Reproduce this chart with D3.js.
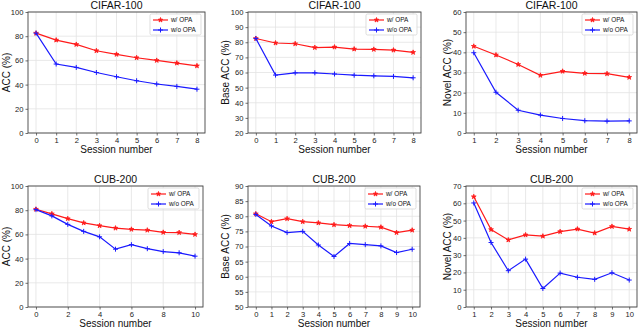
<!DOCTYPE html>
<html>
<head>
<meta charset="utf-8">
<script src="https://cdn.jsdelivr.net/npm/d3@7"></script>
<style>
  body { margin: 0; background: #fff; }
  svg { font-family: "Liberation Sans", Arial, sans-serif; }
</style>
</head>
<body>
<div id="myChart"></div>
<script>
// sessions
const cifarSessions = [0, 1, 2, 3, 4, 5, 6, 7, 8]
const cifarNovelSessions = [1, 2, 3, 4, 5, 6, 7, 8]
const cubSessions = [0, 1, 2, 3, 4, 5, 6, 7, 8, 9, 10]
const cubNovelSessions = [1, 2, 3, 4, 5, 6, 7, 8, 9, 10]

// CIFAR-100
const cifarAccWith = [82.5, 76.8, 73.2, 68.0, 65.0, 62.2, 60.0, 57.8, 55.5]
const cifarAccWithout = [82.5, 57.0, 54.2, 50.0, 46.5, 43.2, 40.5, 38.5, 36.2]
const cifarBaseWith = [82.5, 79.5, 79.0, 76.5, 76.8, 75.5, 75.3, 74.8, 73.3]
const cifarBaseWithout = [82.5, 58.3, 59.8, 59.8, 59.0, 58.2, 57.8, 57.4, 56.5]
const cifarNovelWith = [43.0, 38.7, 34.0, 28.6, 30.6, 29.6, 29.4, 27.6]
const cifarNovelWithout = [39.8, 20.2, 11.3, 8.9, 7.2, 6.1, 5.9, 6.0]

// CUB-200
const cubAccWith = [80.8, 77.0, 73.0, 69.5, 67.2, 65.2, 64.2, 63.5, 61.7, 61.5, 60.0]
const cubAccWithout = [80.5, 75.3, 68.3, 62.5, 58.0, 47.8, 51.5, 48.2, 45.8, 44.8, 42.0]
const cubBaseWith = [80.8, 78.2, 79.2, 78.2, 77.8, 77.2, 76.9, 76.7, 76.4, 74.6, 75.4]
const cubBaseWithout = [80.6, 76.8, 74.6, 75.0, 70.5, 66.7, 71.0, 70.6, 70.2, 68.0, 69.1]
const cubNovelWith = [63.8, 44.8, 38.8, 41.7, 41.0, 43.6, 45.1, 42.8, 46.6, 45.0]
const cubNovelWithout = [60.2, 37.3, 21.0, 27.7, 10.7, 19.6, 17.2, 16.0, 19.8, 15.6]

// tick labels
const xTicksCifar = [0, 1, 2, 3, 4, 5, 6, 7, 8]
const xTicksCifarNovel = [1, 2, 3, 4, 5, 6, 7, 8]
const xTicksCubAcc = [0, 2, 4, 6, 8, 10]
const xTicksCub = [0, 1, 2, 3, 4, 5, 6, 7, 8, 9, 10]
const xTicksCubNovel = [1, 2, 3, 4, 5, 6, 7, 8, 9, 10]
const yTicksAcc = [0, 20, 40, 60, 80, 100]
const yTicksCifarBase = [20, 30, 40, 50, 60, 70, 80, 90, 100]
const yTicksCifarNovel = [0, 10, 20, 30, 40, 50, 60]
const yTicksCubBase = [50, 55, 60, 65, 70, 75, 80, 85, 90]
const yTicksCubNovel = [0, 10, 20, 30, 40, 50, 60, 70]

const seriesNames = ["w/ OPA", "w/o OPA"]
const seriesColors = ["#ff1a1a", "#1a1aff"]

let width = 640
let height = 329

let svg = d3.select("#myChart")
  .append("svg")
  .attr("width", width)
  .attr("height", height)

const panels = [
  { title: "CIFAR-100", ylabel: "ACC (%)", x: cifarSessions, a: cifarAccWith, b: cifarAccWithout,
    xt: xTicksCifar, yt: yTicksAcc, box: [28, 12, 205, 133], lx: 6 },
  { title: "CIFAR-100", ylabel: "Base ACC (%)", x: cifarSessions, a: cifarBaseWith, b: cifarBaseWithout,
    xt: xTicksCifar, yt: yTicksCifarBase, box: [248, 12, 421, 133], lx: 225 },
  { title: "CIFAR-100", ylabel: "Novel ACC (%)", x: cifarNovelSessions, a: cifarNovelWith, b: cifarNovelWithout,
    xt: xTicksCifarNovel, yt: yTicksCifarNovel, box: [466, 12, 637, 133], lx: 447 },
  { title: "CUB-200", ylabel: "ACC (%)", x: cubSessions, a: cubAccWith, b: cubAccWithout,
    xt: xTicksCubAcc, yt: yTicksAcc, box: [28, 186, 203, 307], lx: 6 },
  { title: "CUB-200", ylabel: "Base ACC (%)", x: cubSessions, a: cubBaseWith, b: cubBaseWithout,
    xt: xTicksCub, yt: yTicksCubBase, box: [248, 186, 420, 307], lx: 225 },
  { title: "CUB-200", ylabel: "Novel ACC (%)", x: cubNovelSessions, a: cubNovelWith, b: cubNovelWithout,
    xt: xTicksCubNovel, yt: yTicksCubNovel, box: [466, 186, 637, 307], lx: 447 }
]

const star = d3.symbol().type(d3.symbolStar).size(7)
const plus = "M-2.5,0H2.5M0,-2.5V2.5"

panels.forEach(p => {
  const [x0, y0, x1, y1] = p.box
  const xmin = d3.min(p.x), xmax = d3.max(p.x)
  const pad = (xmax - xmin) * 0.05
  const x = d3.scaleLinear().domain([xmin - pad, xmax + pad]).range([x0, x1])
  const y = d3.scaleLinear().domain([d3.min(p.yt), d3.max(p.yt)]).range([y1, y0])

  const g = svg.append("g")

  // grid
  g.append("g").selectAll("line").data(p.xt).enter().append("line")
    .attr("x1", d => x(d)).attr("x2", d => x(d)).attr("y1", y0).attr("y2", y1)
    .attr("stroke", "#e3e3e3").attr("stroke-width", 0.8)
  g.append("g").selectAll("line").data(p.yt).enter().append("line")
    .attr("x1", x0).attr("x2", x1).attr("y1", d => y(d)).attr("y2", d => y(d))
    .attr("stroke", "#e3e3e3").attr("stroke-width", 0.8)

  // axes
  const xAxis = g.append("g").attr("transform", `translate(0,${y1})`)
    .call(d3.axisBottom(x).tickValues(p.xt).tickSize(2.5).tickPadding(2).tickFormat(d3.format("d")))
  const yAxis = g.append("g").attr("transform", `translate(${x0},0)`)
    .call(d3.axisLeft(y).tickValues(p.yt).tickSize(2.5).tickPadding(2).tickFormat(d3.format("d")))
  ;[xAxis, yAxis].forEach(a => {
    a.select(".domain").remove()
    a.selectAll("text").attr("font-size", 7.6).attr("fill", "#222").attr("font-family", null)
    a.selectAll("line").attr("stroke", "#333").attr("stroke-width", 0.7)
  })

  // lines
  const line = d3.line().x((d, i) => x(p.x[i])).y(d => y(d))
  ;[p.a, p.b].forEach((vals, k) => {
    g.append("path").datum(vals)
      .attr("d", line)
      .attr("fill", "none")
      .attr("stroke", seriesColors[k])
      .attr("stroke-width", 1.2)
    g.append("g").selectAll("path").data(vals).enter().append("path")
      .attr("transform", (d, i) => `translate(${x(p.x[i])},${y(d)})`)
      .attr("d", k == 0 ? star : plus)
      .attr("fill", k == 0 ? seriesColors[0] : "none")
      .attr("stroke", seriesColors[k])
      .attr("stroke-width", k == 0 ? 0.8 : 1)
  })

  // frame
  g.append("rect")
    .attr("x", x0).attr("y", y0).attr("width", x1 - x0).attr("height", y1 - y0)
    .attr("fill", "none").attr("stroke", "#444").attr("stroke-width", 0.9)

  // title + labels
  g.append("text").attr("x", (x0 + x1) / 2).attr("y", y0 - 3)
    .attr("text-anchor", "middle").attr("font-size", 10.5).attr("fill", "#111").text(p.title)
  g.append("text").attr("x", (x0 + x1) / 2).attr("y", y1 + 20)
    .attr("text-anchor", "middle").attr("font-size", 10).attr("fill", "#111").text("Session number")
  g.append("text")
    .attr("transform", `translate(${p.lx + 3.5},${(y0 + y1) / 2}) rotate(-90)`)
    .attr("text-anchor", "middle").attr("font-size", 10).attr("fill", "#111").text(p.ylabel)

  // legend
  const lw = 51, lh = 21
  const lg = g.append("g").attr("transform", `translate(${x1 - lw - 4},${y0 + 2})`)
  lg.append("rect").attr("width", lw).attr("height", lh).attr("rx", 1.5)
    .attr("fill", "#fff").attr("fill-opacity", 0.85).attr("stroke", "#d0d0d0").attr("stroke-width", 0.7)
  seriesNames.forEach((name, k) => {
    const yy = 6 + k * 10
    lg.append("line").attr("x1", 3).attr("x2", 18).attr("y1", yy).attr("y2", yy)
      .attr("stroke", seriesColors[k]).attr("stroke-width", 1.2)
    lg.append("path").attr("transform", `translate(10.5,${yy})`)
      .attr("d", k == 0 ? star : plus)
      .attr("fill", k == 0 ? seriesColors[0] : "none")
      .attr("stroke", seriesColors[k]).attr("stroke-width", k == 0 ? 0.8 : 1)
    lg.append("text").attr("x", 21).attr("y", yy + 2.2).attr("font-size", 6.4).attr("fill", "#111").text(name)
  })
})
</script>
</body>
</html>
